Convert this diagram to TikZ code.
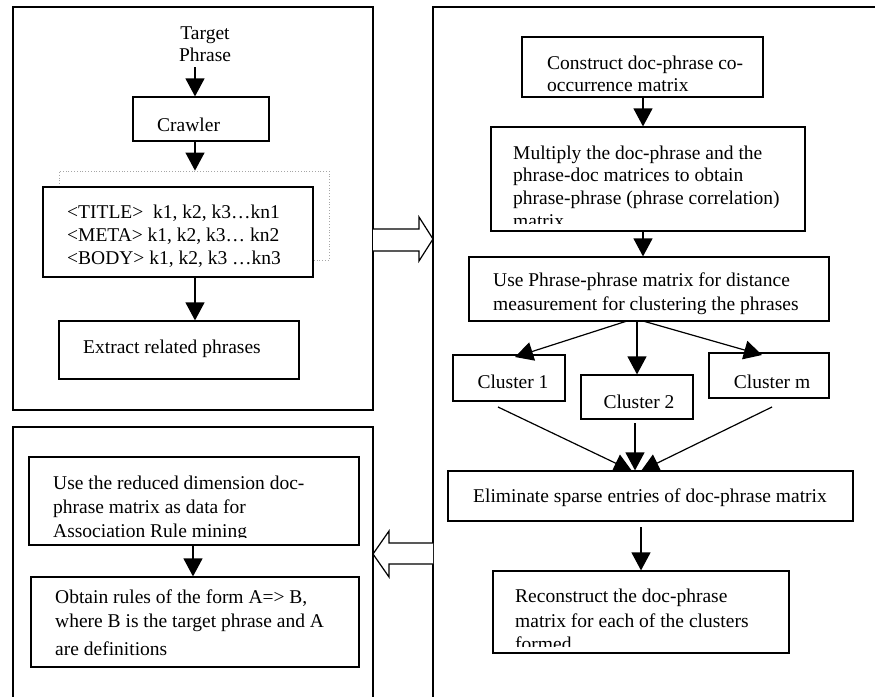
\documentclass[tikz,border=0pt]{standalone}
\usepackage{fontspec}
\setmainfont{Liberation Serif}
\usetikzlibrary{arrows.meta}
\begin{document}
\begin{tikzpicture}[x=1pt,y=-1pt,
  box/.style={draw, line width=1.2pt, inner sep=0pt, fill=white},
  panel/.style={draw, line width=1.3pt},
  arr/.style={line width=1.2pt, -{Triangle[length=18pt,width=19pt]}},
  blockarrow/.style={draw, line width=1.2pt, fill=white, line join=miter},
  txt/.style={anchor=base west, inner sep=0pt, font=\fontsize{19.5}{23}\selectfont},
  ctxt/.style={anchor=base, inner sep=0pt, font=\fontsize{19.5}{23}\selectfont},
]
\clip (0,0) rectangle (875,696);
\fill[white] (0,0) rectangle (875,696);

% panels
\draw[panel] (13,7) rectangle (373,410);
\draw[panel] (433,7) rectangle (880,705);
\draw[panel] (13,427) rectangle (373,705);

% block arrows between panels
\draw[blockarrow] (373,229) -- (419,229) -- (419,217) -- (433,239) -- (419,261) -- (419,251) -- (373,251);
\draw[blockarrow] (433,543) -- (389,543) -- (389,531) -- (373,554) -- (389,577) -- (389,564) -- (433,564);

% ---------- top-left panel ----------
\node[ctxt] (tp1) at (205,39) {Target};
\node[ctxt] (tp2) at (205,61) {Phrase};
\coordinate (tpout) at (195,67);

\node[box, minimum width=136pt, minimum height=44pt] (crawler) at (201,119) {};
\node[txt] (crawlert) at (157,131) {Crawler};

\node[draw=black!35, dotted, line width=0.8pt, inner sep=0pt, minimum width=270pt, minimum height=89pt] (dots) at (194,215.5) {};
\node[box, minimum width=270pt, minimum height=90pt] (tags) at (178,232) {};
\node[txt] (tag1) at (67,218) {<TITLE>\ \ k1, k2, k3…kn1};
\node[txt] (tag2) at (67,241) {<META> k1, k2, k3… kn2};
\node[txt] (tag3) at (67,264) {<BODY> k1, k2, k3 …kn3};

\node[box, minimum width=240pt, minimum height=58pt] (extract) at (179,350) {};
\node[txt] (extractt) at (83,353) {Extract related phrases};

\coordinate (c1) at (195,141);
\coordinate (c2) at (195,277);
\draw[arr] (tpout) -- (tpout |- crawler.north);
\draw[arr] (c1) -- (c1 |- dots.north);
\draw[arr] (c2) -- (c2 |- extract.north);

% ---------- right panel ----------
\node[box, minimum width=241pt, minimum height=60pt] (construct) at (642.5,67) {};
\node[txt] (con1) at (547,69) {Construct doc-phrase co-};
\node[txt] (con2) at (547,91) {occurrence matrix};

\node[box, minimum width=314pt, minimum height=104pt] (multiply) at (648,179) {};
\begin{scope}
  \clip (491,127) rectangle (805,223);
  \node[txt] (mul1) at (513,159) {Multiply the doc-phrase and the};
  \node[txt] (mul2) at (513,181) {phrase-doc matrices to obtain};
  \node[txt] (mul3) at (513,204) {phrase-phrase (phrase correlation)};
  \node[txt] (mul4) at (513,227) {matrix};
\end{scope}

\node[box, minimum width=360pt, minimum height=64pt] (usepp) at (649,289) {};
\node[txt] (use1) at (493,286) {Use Phrase-phrase matrix for distance};
\node[txt] (use2) at (493,310) {measurement for clustering the phrases};

\node[box, minimum width=112pt, minimum height=46pt] (cl1) at (509,378) {};
\node[ctxt] (cl1t) at (513,388) {Cluster 1};
\node[box, minimum width=112pt, minimum height=44pt] (cl2) at (637,397) {};
\node[ctxt] (cl2t) at (639,408) {Cluster 2};
\node[box, minimum width=120pt, minimum height=45pt] (clm) at (769,375.5) {};
\node[ctxt] (clmt) at (772,388) {Cluster m};

\node[box, minimum width=405pt, minimum height=50pt] (elim) at (650.5,496) {};
\node[txt] (elimt) at (473,502) {Eliminate sparse entries of doc-phrase matrix};

\node[box, minimum width=296pt, minimum height=82pt] (recon) at (641,612) {};
\begin{scope}
  \clip (493,571) rectangle (789,646);
  \node[txt] (rec1) at (515,602) {Reconstruct the doc-phrase};
  \node[txt] (rec2) at (515,627) {matrix for each of the clusters};
  \node[txt] (rec3) at (515,650) {formed};
\end{scope}

\coordinate (r1) at (643,97);
\coordinate (r2) at (643,231);
\coordinate (u1) at (627,321);
\coordinate (u2) at (637,321);
\coordinate (u3) at (643,321);
\coordinate (k1) at (498,407);
\coordinate (k2) at (635,423);
\coordinate (k3) at (772,407);
\coordinate (e1) at (641,527);
\draw[arr] (r1) -- (r1 |- multiply.north);
\draw[arr] (r2) -- (r2 |- usepp.north);
\draw[arr] (u1) -- (515,357);
\draw[arr] (u2) -- (u2 |- cl2.north);
\draw[arr] (u3) -- (762,355);
\draw[arr] (k1) -- (632,471);
\draw[arr] (k2) -- (k2 |- elim.north);
\draw[arr] (k3) -- (641,471);
\draw[arr] (e1) -- (e1 |- recon.north);

% ---------- bottom-left panel ----------
\node[box, minimum width=330pt, minimum height=88pt] (reduced) at (194,501) {};
\begin{scope}
  \clip (29,457) rectangle (359,537);
  \node[txt] (red1) at (53,489) {Use the reduced dimension doc-};
  \node[txt] (red2) at (53,513) {phrase matrix as data for};
  \node[txt] (red3) at (53,537) {Association Rule mining};
\end{scope}

\node[box, minimum width=328pt, minimum height=90pt] (obtain) at (195,622) {};
\node[txt] (obt1) at (55,603) {Obtain rules of the form A=> B,};
\node[txt] (obt2) at (55,627) {where B is the target phrase and A};
\node[txt] (obt3) at (55,655) {are definitions};

\coordinate (b1) at (193,545);
\draw[arr] (b1) -- (b1 |- obtain.north);
\end{tikzpicture}
\end{document}
